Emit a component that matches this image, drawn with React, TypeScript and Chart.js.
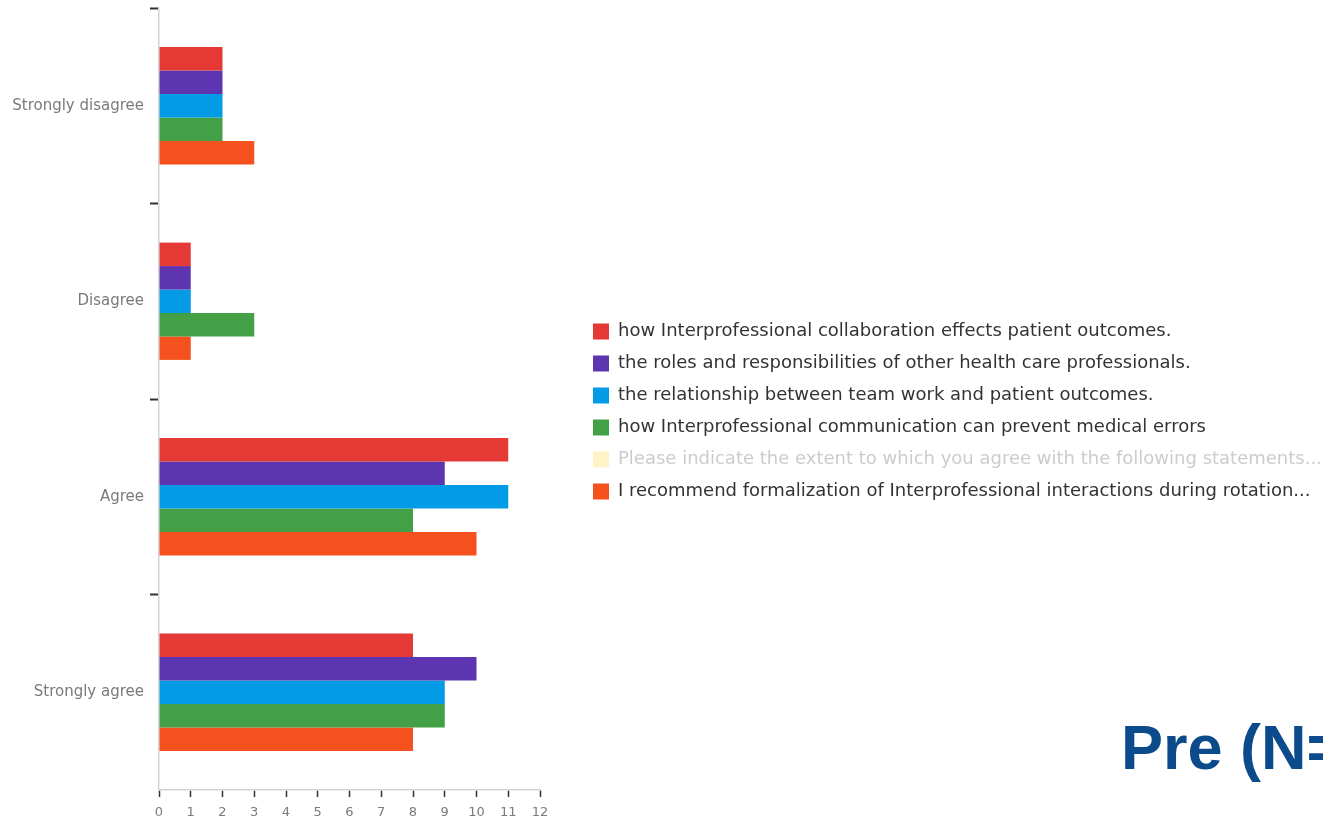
import React, { useEffect, useRef } from "react";
import { Chart, registerables } from "chart.js";

Chart.register(...registerables);

const categories = ["Strongly disagree", "Disagree", "Agree", "Strongly agree"];

const seriesLabels = [
  "how Interprofessional collaboration effects patient outcomes.",
  "the roles and responsibilities of other health care professionals.",
  "the relationship between team work and patient outcomes.",
  "how Interprofessional communication can prevent medical errors",
  "Please indicate the extent to which you agree with the following statements...",
  "I recommend formalization of Interprofessional interactions during rotation...",
];

const collaborationValues = [2, 1, 11, 8];
const rolesValues = [2, 1, 9, 10];
const teamworkValues = [2, 1, 11, 9];
const communicationValues = [2, 3, 8, 9];
const questionValues = [0, 0, 0, 0];
const recommendValues = [3, 1, 10, 8];

const seriesColors = ["#e53935", "#5e35b1", "#039be5", "#43a047", "#fff3c7", "#f4511e"];
const hiddenSeries = [false, false, false, false, true, false];

const xTickValues = [0, 12];

const CANVAS_W = 1323;
const CANVAS_H = 821;
const PLOT_RIGHT = 540;
const LEGEND_PAD = 14;
const LEGEND_LEFT = 593 - LEGEND_PAD;
const LEGEND_SHIFT_Y = -3;

const legendPlace = {
  id: "legendPlace",
  beforeLayout(chart: any) {
    const lg: any = chart.legend;
    if (lg && !lg._patchedFit) {
      const orig = lg.fit.bind(lg);
      lg.fit = function () {
        orig();
        this.width = CANVAS_W - PLOT_RIGHT;
      };
      lg._patchedFit = true;
    }
  },
  afterLayout(chart: any) {
    const lg: any = chart.legend;
    if (lg) {
      lg.left = LEGEND_LEFT;
      lg.right = CANVAS_W;
      lg.top += LEGEND_SHIFT_Y;
      lg.bottom += LEGEND_SHIFT_Y;
    }
  },
};

const FONT = "'DejaVu Sans', sans-serif";

export default function App() {
  const ref = useRef<HTMLCanvasElement>(null);

  useEffect(() => {
    if (!ref.current) return;
    const allValues = [
      collaborationValues,
      rolesValues,
      teamworkValues,
      communicationValues,
      questionValues,
      recommendValues,
    ];
    const chart = new Chart(ref.current, {
      type: "bar",
      data: {
        labels: categories,
        datasets: seriesLabels.map((label, i) => ({
          label,
          data: allValues[i],
          backgroundColor: seriesColors[i],
          borderWidth: 0,
          hidden: hiddenSeries[i],
          categoryPercentage: 0.6,
          barPercentage: 1,
        })),
      },
      options: {
        indexAxis: "y",
        responsive: false,
        animation: false,
        layout: { padding: { top: 8, bottom: 0, left: 0, right: 0 } },
        font: { family: FONT },
        scales: {
          x: {
            min: xTickValues[0],
            max: xTickValues[1],
            ticks: {
              stepSize: 1,
              color: "#7a7a7a",
              padding: 8,
              font: { family: FONT, size: 13 },
            },
            grid: {
              display: true,
              drawOnChartArea: false,
              drawTicks: true,
              tickLength: 7,
              tickColor: "#333333",
              tickWidth: 1.5,
            },
            border: { display: true, color: "#d4d4d4", width: 1.5 },
            afterFit: (scale: any) => {
              scale.height = 31;
              scale.paddingLeft = 0;
              scale.paddingRight = 0;
            },
          },
          y: {
            ticks: {
              color: "#7a7a7a",
              padding: 6,
              font: { family: FONT, size: 15 },
            },
            grid: {
              display: true,
              offset: true,
              drawOnChartArea: false,
              drawTicks: true,
              tickLength: 9,
              tickWidth: 2,
              tickColor: (ctx: any) => (ctx.type === "tick" ? "#333333" : "rgba(0,0,0,0)"),
            },
            border: { display: true, color: "#d4d4d4", width: 1.5 },
            afterFit: (scale: any) => {
              scale.width = 159;
              scale.paddingTop = 0;
              scale.paddingBottom = 0;
            },
          },
        },
        plugins: {
          tooltip: { enabled: false },
          legend: {
            position: "right",
            align: "center",
            maxWidth: 1000,
            onClick: () => {},
            labels: {
              boxWidth: 16,
              boxHeight: 16,
              padding: LEGEND_PAD,
              color: "#333333",
              font: { family: FONT, size: 18 },
              generateLabels: (c: any) => {
                const items = (Chart as any).defaults.plugins.legend.labels.generateLabels(c);
                return items.map((it: any, i: number) => ({
                  ...it,
                  hidden: false,
                  lineWidth: 0,
                  strokeStyle: "rgba(0,0,0,0)",
                  fontColor: hiddenSeries[i] ? "#cccccc" : "#333333",
                }));
              },
            },
          },
        },
      },
      plugins: [legendPlace],
    } as any);
    return () => chart.destroy();
  }, []);

  return (
    <div
      style={{
        position: "absolute",
        left: 0,
        top: 0,
        width: CANVAS_W,
        height: CANVAS_H,
        overflow: "hidden",
        background: "#ffffff",
      }}
    >
      <canvas ref={ref} width={CANVAS_W} height={CANVAS_H} style={{ display: "block" }} />
      <div
        style={{
          position: "absolute",
          left: 1121,
          top: 716,
          fontFamily: "'Liberation Sans', Arial, sans-serif",
          fontWeight: "bold",
          fontSize: 63,
          lineHeight: "63px",
          color: "#0b4a8b",
          whiteSpace: "nowrap",
        }}
      >
        Pre (N=
      </div>
    </div>
  );
}
